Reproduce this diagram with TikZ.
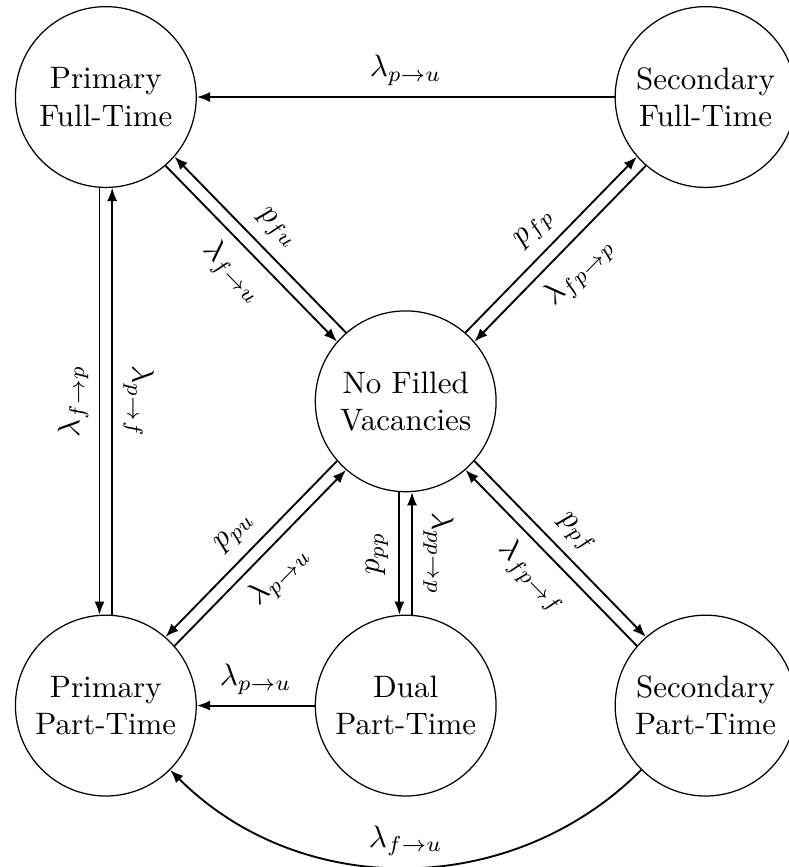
\documentclass[tikz,border=0pt]{standalone}
\usetikzlibrary{arrows.meta,positioning,calc}
\tikzset{
  state/.style={circle, draw, minimum size=2.05cm, inner sep=1pt, align=center},
  trans/.style={-{Latex[length=1.5mm, width=1.15mm]}, semithick},
}

\begin{document}
\begin{tikzpicture}
\useasboundingbox (-4.60,-5.28) rectangle (4.34,4.55);
\node[state] (nfv) at (0,0) {No Filled\\Vacancies};
\node[state] (pft) at (-3.4,3.45) {Primary\\Full-Time};
\node[state] (sft) at (3.4,3.45) {Secondary\\Full-Time};
\node[state] (ppt) at (-3.4,-3.45) {Primary\\Part-Time};
\node[state] (dpt) at (0,-3.45) {Dual\\Part-Time};
\node[state] (spt) at (3.4,-3.45) {Secondary\\Part-Time};
\draw[trans] (sft) -- (pft) node[midway, above] {$\lambda_{p\to u}$};
\draw[trans] (dpt) -- (ppt) node[midway, above] {$\lambda_{p\to u}$};
\draw[trans] (spt) to[bend left=45]
  node[midway, above] {$\lambda_{f\to u}$} (ppt);
\draw[trans] (nfv.131) -- (pft.-41) node[midway, above, sloped] {$p_{fu}$};
\draw[trans] (pft.-49) -- (nfv.139) node[midway, below, sloped] {$\lambda_{f\to u}$};
\draw[trans] (nfv.49) -- (sft.221) node[midway, above, sloped] {$p_{fp}$};
\draw[trans] (sft.229) -- (nfv.41) node[midway, below, sloped] {$\lambda_{fp\to p}$};
\draw[trans] (nfv.-41) -- (spt.131) node[midway, above, sloped] {$p_{pf}$};
\draw[trans] (spt.139) -- (nfv.-49) node[midway, below, sloped] {$\lambda_{fp\to f}$};
\draw[trans] (nfv.221) -- (ppt.49) node[midway, above, sloped] {$p_{pu}$};
\draw[trans] (ppt.41) -- (nfv.229) node[midway, below, sloped] {$\lambda_{p\to u}$};
\draw[trans] (pft.-94) -- (ppt.94)
  node[midway, anchor=south, rotate=90] {$\lambda_{f\to p}$};
\draw[trans] (ppt.86) -- (pft.-86)
  node[midway, anchor=south, rotate=-90] {$\lambda_{p\to f}$};
\draw[trans] (nfv.-94) -- (dpt.94)
  node[midway, anchor=south, rotate=90] {$p_{pp}$};
\draw[trans] (dpt.86) -- (nfv.-86)
  node[midway, anchor=south, rotate=-90] {$\lambda_{pp\to p}$};
\end{tikzpicture}
\end{document}
